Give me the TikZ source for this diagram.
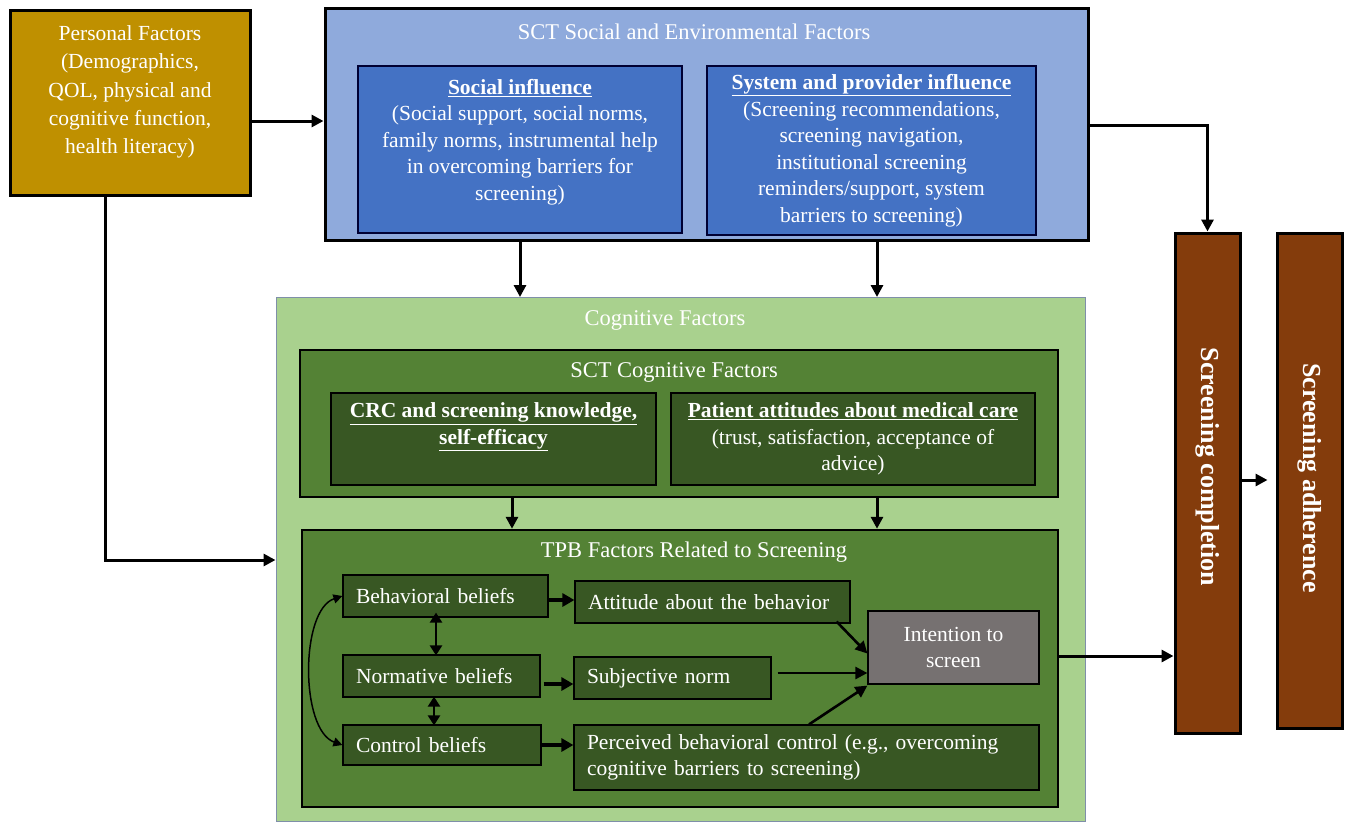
\documentclass[tikz,border=0pt]{standalone}
\usepackage{fontspec}
\setmainfont{Liberation Serif}
\usetikzlibrary{arrows.meta}
\definecolor{gold}{HTML}{BF9000}
\definecolor{sctblue}{HTML}{8FAADC}
\definecolor{midblue}{HTML}{4472C4}
\definecolor{lgreen}{HTML}{A9D18E}
\definecolor{mgreen}{HTML}{548235}
\definecolor{dgreen}{HTML}{385723}
\definecolor{igray}{HTML}{767171}
\definecolor{outbrown}{HTML}{843C0C}
\definecolor{cogborder}{HTML}{7F8FA9}
\begin{document}
\begin{tikzpicture}[x=1pt,y=-1pt,
  txt/.style={font=\fontsize{21.5}{26.5}\selectfont, text=white, align=center, inner sep=0pt},
  ttl/.style={txt, font=\fontsize{22.5}{27}\selectfont},
  box/.style={txt, draw=black, rectangle},
  item/.style={box, fill=dgreen, line width=1.2pt, align=left, inner xsep=13pt, inner ysep=0pt},
  vtxt/.style={txt, rotate=-90, font=\fontsize{26}{30}\selectfont\bfseries},
  arr/.style={draw=black, line width=3pt, -{Triangle[length=12pt,width=12pt]}},
  iarr/.style={draw=black, line width=3.5pt, -{Triangle[length=12pt,width=13pt]}},
  darr/.style={draw=black, line width=2.6pt, -{Triangle[length=12pt,width=12pt]}},
  dbl/.style={draw=black, line width=2.4pt, {Triangle[length=10pt,width=12pt]}-{Triangle[length=10pt,width=12pt]}},
  cdbl/.style={draw=black, line width=1.5pt, {Triangle[length=9pt,width=9pt]}-{Triangle[length=9pt,width=9pt]}},
]
\useasboundingbox[fill=white] (0,0) rectangle (1350,823);

% helper coordinates
\coordinate (h121) at (0,121);
\coordinate (h125) at (0,125);
\coordinate (h560) at (0,560);
\coordinate (h600) at (0,600);
\coordinate (h684) at (0,684);
\coordinate (h673) at (0,673);
\coordinate (h656) at (0,656);
\coordinate (h480) at (0,480);
\coordinate (v105) at (105,0);
\coordinate (v520) at (520,0);
\coordinate (v877) at (877,0);
\coordinate (v512) at (512,0);
\coordinate (v436) at (436,0);
\coordinate (v434) at (434,0);
\coordinate (v809) at (809,0);

% Personal factors
\node[box, fill=gold, line width=3pt, minimum width=240pt, minimum height=185pt] (personal) at (130,102.5) {};
\node[txt, font=\fontsize{21.5}{28.2}\selectfont] (personaltxt) at (130,92) {Personal Factors\\(Demographics,\\QOL, physical and\\cognitive function,\\health literacy)};

% SCT social and environmental
\node[box, fill=sctblue, line width=3pt, minimum width=763pt, minimum height=232pt] (sct) at (706.5,124) {};
\node[ttl] (scttitle) at (694,32) {SCT Social and Environmental Factors};
\node[box, fill=midblue, line width=1.5pt, draw=black!80!blue, minimum width=324pt, minimum height=167pt] (social) at (520,149.5) {};
\node[txt] (socialtxt) at (520,142) {\underline{\textbf{Social influence}}\\(Social support, social norms,\\family norms, instrumental help\\in overcoming barriers for\\screening)};
\node[box, fill=midblue, line width=1.5pt, draw=black!80!blue, minimum width=329pt, minimum height=169pt] (system) at (871.5,150.5) {\underline{\textbf{System and provider influence}}\\(Screening recommendations,\\screening navigation,\\institutional screening\\reminders/support, system\\barriers to screening)};

% Cognitive factors
\node[box, fill=lgreen, draw=cogborder, line width=1pt, minimum width=809pt, minimum height=524pt] (cog) at (680.5,559.5) {};
\node[ttl] (cogtitle) at (665,320) {Cognitive Factors};
\node[box, fill=mgreen, line width=2.5pt, minimum width=758pt, minimum height=147pt] (sctcog) at (679,423.5) {};
\node[ttl] (sctcogtitle) at (674,372) {SCT Cognitive Factors};
\node[box, fill=dgreen, line width=1.2pt, minimum width=325pt, minimum height=92pt] (crc) at (493.5,439) {};
\node[txt] (crctxt) at (493.5,427) {\underline{\textbf{CRC and screening knowledge,}}\\\underline{\textbf{self-efficacy}}};
\node[box, fill=dgreen, line width=1.2pt, minimum width=364pt, minimum height=92pt] (patient) at (853,439) {\underline{\textbf{Patient attitudes about medical care}}\\(trust, satisfaction, acceptance of\\advice)};

% TPB
\node[box, fill=mgreen, line width=2.5pt, minimum width=756pt, minimum height=277pt] (tpb) at (680,668.5) {};
\node[ttl] (tpbtitle) at (694,552) {TPB Factors Related to Screening};
\node[item, text width=179pt, minimum height=42pt] (behav) at (445.5,596) {Behavioral beliefs};
\node[item, text width=249pt, minimum height=42pt] (att) at (712.5,602) {Attitude about the behavior};
\node[item, text width=171pt, minimum height=42pt] (norm) at (441.5,676) {Normative beliefs};
\node[item, text width=171pt, minimum height=42pt] (subj) at (672.5,678) {Subjective norm};
\node[item, text width=172pt, minimum height=40pt] (ctrl) at (442,745) {Control beliefs};
\node[item, text width=439pt, minimum height=65pt] (perc) at (806.5,757.5) {Perceived behavioral control (e.g., overcoming\\cognitive barriers to screening)};
\node[box, fill=igray, line width=1.2pt, minimum width=171pt, minimum height=73pt] (int) at (953.5,647.5) {Intention to\\screen};

% Outcomes
\node[box, fill=outbrown, line width=3pt, minimum width=65pt, minimum height=500pt] (compl) at (1207.5,483) {};
\node[vtxt] (compltxt) at (1207.5,467) {Screening completion};
\node[box, fill=outbrown, line width=3pt, minimum width=65pt, minimum height=495pt] (adh) at (1309.5,480.5) {};
\node[vtxt] (adhtxt) at (1309.5,478) {Screening adherence};

% Connectors
\draw[arr] (personal.east |- h121) -- (sct.west |- h121);
\draw[arr] (personal.south -| v105) |- (cog.west |- h560);
\draw[arr] (sct.south -| v520) -- (cog.north -| v520);
\draw[arr] (sct.south -| v877) -- (cog.north -| v877);
\draw[arr] (sct.east |- h125) -| (compl.north);
\draw[arr] (sctcog.south -| v512) -- (tpb.north -| v512);
\draw[arr] (sctcog.south -| v877) -- (tpb.north -| v877);

\draw[iarr] (behav.east |- h600) -- (att.west |- h600);
\draw[iarr, shorten <=3pt] (norm.east |- h684) -- (subj.west |- h684);
\draw[iarr] (ctrl.east) -- (perc.west |- ctrl.east);
\draw[darr] ([xshift=-14pt,yshift=2pt]att.south east) -- ([yshift=-6pt]int.west);
\draw[darr] ([xshift=6pt]subj.east |- h673) -- (int.west |- h673);
\draw[darr] (perc.north -| v809) -- ([yshift=-1pt]int.south west);
\draw[dbl] ([yshift=5pt]behav.south -| v436) -- ([yshift=-1pt]norm.north -| v436);
\draw[dbl] ([yshift=1pt]norm.south -| v434) -- ([yshift=-1pt]ctrl.north -| v434);
\draw[cdbl] (behav.west) .. controls (300,610) and (300,730) .. (ctrl.west);

\draw[arr] (tpb.east |- h656) -- (compl.west |- h656);
\draw[arr, shorten >=8pt] (compl.east |- h480) -- (adh.west |- h480);
\end{tikzpicture}
\end{document}
